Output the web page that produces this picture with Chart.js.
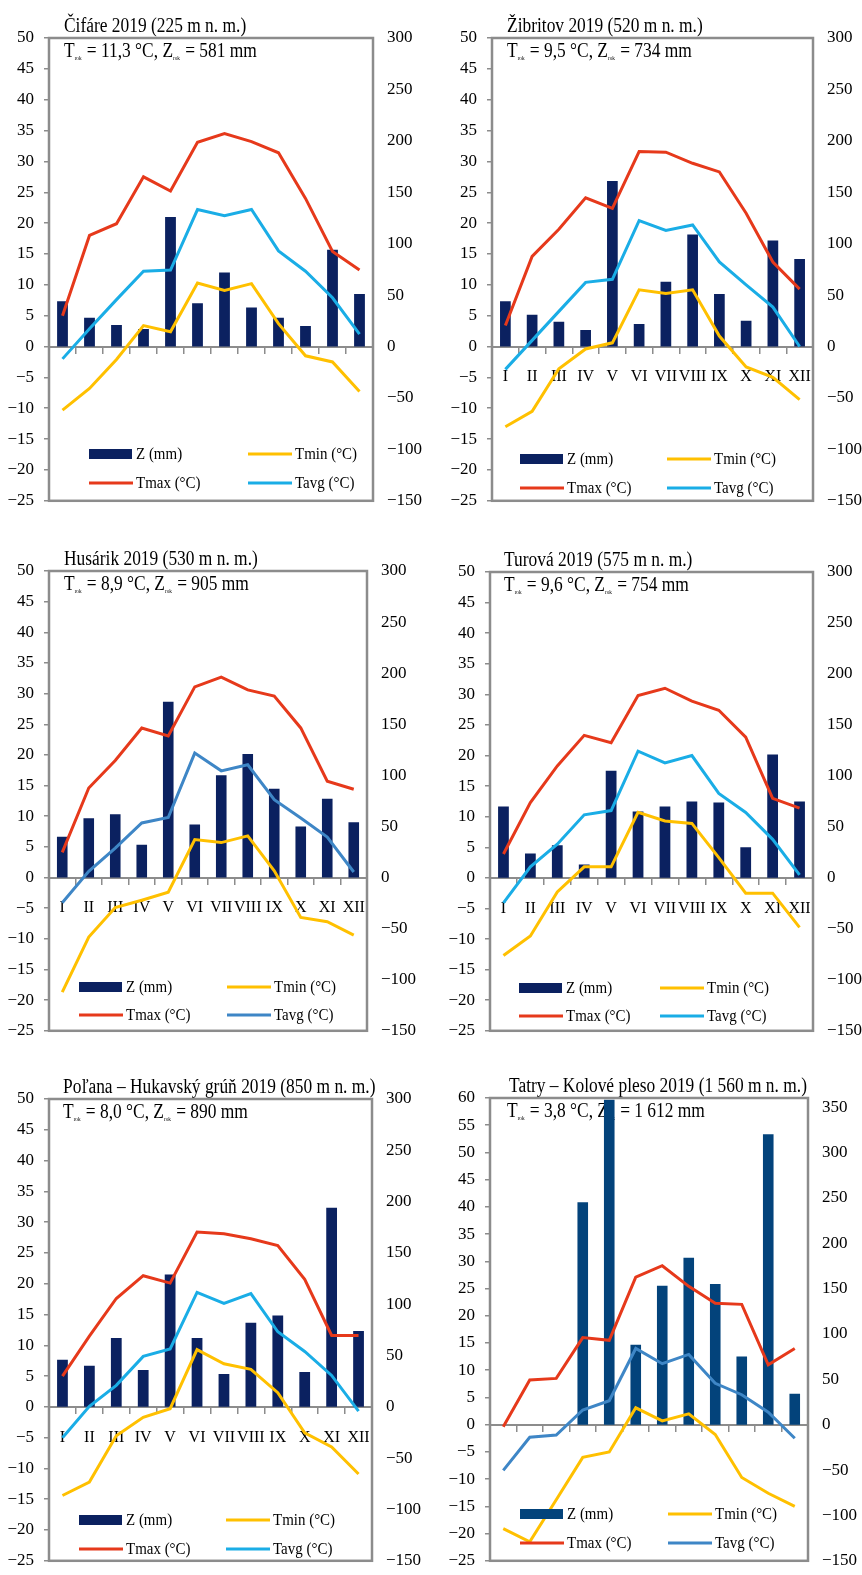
<!DOCTYPE html>
<html>
<head>
<meta charset="utf-8">
<script src="https://cdn.jsdelivr.net/npm/chart.js@4.4.1/dist/chart.umd.min.js"></script>
<style>
    html, body { margin: 0; padding: 0; background: #fff; }
    body { width: 862px; height: 1575px; overflow: hidden; position: relative; }
    canvas { position: absolute; }
</style>
</head>
<body>
<canvas id="c0" width="431" height="525" style="left:0;top:0"></canvas>
<canvas id="c1" width="431" height="525" style="left:431px;top:0"></canvas>
<canvas id="c2" width="431" height="530" style="left:0;top:525px"></canvas>
<canvas id="c3" width="431" height="530" style="left:431px;top:525px"></canvas>
<canvas id="c4" width="431" height="530" style="left:0;top:1055px"></canvas>
<canvas id="c5" width="431" height="530" style="left:431px;top:1055px"></canvas>
<script>
// --- data ---
const months = ['I', 'II', 'III', 'IV', 'V', 'VI', 'VII', 'VIII', 'IX', 'X', 'XI', 'XII'];
const seriesLabels = ['Z (mm)', 'Tmin (°C)', 'Tmax (°C)', 'Tavg (°C)'];
const stations = ['Čifáre', 'Žibritov', 'Husárik', 'Turová', 'Poľana – Hukavský grúň', 'Tatry – Kolové pleso'];
const year = 2019;
const elevations = [225, 520, 530, 575, 850, 1560];
const annualT = [11.3, 9.5, 8.9, 9.6, 8.0, 3.8];
const annualZ = [581, 734, 905, 754, 890, 1612];

const leftTicks50 = [-25, -20, -15, -10, -5, 0, 5, 10, 15, 20, 25, 30, 35, 40, 45, 50];
const leftTicks60 = [-25, -20, -15, -10, -5, 0, 5, 10, 15, 20, 25, 30, 35, 40, 45, 50, 55, 60];
const rightTicks300 = [-150, -100, -50, 0, 50, 100, 150, 200, 250, 300];
const rightTicks350 = [-150, -100, -50, 0, 50, 100, 150, 200, 250, 300, 350];

const zCifare = [44, 28, 21, 17, 126, 42, 72, 38, 28, 20, 94, 51];
const tminCifare = [-10.3, -6.8, -2.1, 3.4, 2.4, 10.3, 9.1, 10.2, 3.7, -1.5, -2.5, -7.3];
const tmaxCifare = [5.0, 18.0, 19.9, 27.5, 25.2, 33.1, 34.5, 33.2, 31.4, 24.0, 15.4, 12.4];
const tavgCifare = [-2.0, 2.9, 7.6, 12.2, 12.4, 22.2, 21.2, 22.2, 15.5, 12.2, 7.9, 2.0];

const zZibritov = [44, 31, 24, 16, 161, 22, 63, 109, 51, 25, 103, 85];
const tminZibritov = [-13.0, -10.5, -3.6, -0.4, 0.6, 9.2, 8.6, 9.2, 1.7, -3.3, -5.0, -8.6];
const tmaxZibritov = [3.4, 14.6, 19.0, 24.1, 22.4, 31.6, 31.5, 29.7, 28.3, 21.6, 13.7, 9.3];
const tavgZibritov = [-3.7, 1.0, 5.7, 10.4, 10.9, 20.4, 18.8, 19.7, 13.7, 10.0, 6.4, 0.0];

const zHusarik = [40, 58, 62, 32, 172, 52, 100, 121, 87, 50, 77, 54];
const tminHusarik = [-18.7, -9.7, -4.9, -3.7, -2.4, 6.2, 5.7, 6.8, 1.1, -6.5, -7.2, -9.4];
const tmaxHusarik = [4.1, 14.6, 19.1, 24.4, 23.1, 31.1, 32.7, 30.6, 29.6, 24.4, 15.7, 14.4];
const tavgHusarik = [-4.1, 1.0, 4.8, 8.9, 9.8, 20.3, 17.4, 18.4, 12.7, 9.7, 6.6, 0.9];

const zTurova = [70, 24, 32, 13, 105, 65, 70, 75, 74, 30, 121, 75];
const tminTurova = [-12.7, -9.5, -2.3, 1.8, 1.8, 10.7, 9.3, 8.9, 3.3, -2.5, -2.5, -8.1];
const tmaxTurova = [3.9, 12.3, 18.3, 23.3, 22.1, 29.8, 31.0, 28.9, 27.4, 23.0, 13.0, 11.4];
const tavgTurova = [-4.1, 1.8, 5.5, 10.3, 11.0, 20.7, 18.8, 20.0, 13.8, 10.7, 6.3, 0.5];

const zPolana = [46, 40, 67, 36, 129, 67, 32, 82, 89, 34, 194, 74];
const tminPolana = [-14.4, -12.2, -4.7, -1.7, -0.3, 9.3, 7.0, 6.1, 2.3, -4.2, -6.5, -10.9];
const tmaxPolana = [5.0, 11.5, 17.6, 21.3, 20.1, 28.4, 28.1, 27.3, 26.2, 20.7, 11.6, 11.6];
const tavgPolana = [-5.0, 0.1, 3.5, 8.2, 9.4, 18.6, 16.8, 18.4, 12.2, 9.0, 5.1, -0.7];

const zTatry = [null, null, null, 245, 358, 88, 153, 184, 155, 75, 320, 34];
const tminTatry = [-19.1, -21.5, -13.8, -6.0, -5.0, 3.1, 0.7, 2.0, -1.8, -9.7, -12.6, -15.0];
const tmaxTatry = [-0.4, 8.2, 8.5, 16.0, 15.5, 27.1, 29.2, 25.4, 22.3, 22.1, 11.0, 14.0];
const tavgTatry = [-8.4, -2.3, -1.9, 2.7, 4.4, 14.0, 11.2, 12.9, 7.6, 5.5, 2.3, -2.5];

// --- styles ---
const SERIF = '"Liberation Serif", "Times New Roman", serif';
const frameColor = '#8c8c8c';
const tminColor = '#ffc000';
const tmaxColor = '#e6391b';
const avgLight = '#1aade6';
const avgSteel = '#3e86c6';
const barDark = '#0b2160';
const barBlue = '#03437b';

Chart.defaults.font.family = SERIF;

const panels = [
    { id: 'c0', st: 0, z: zCifare, tmin: tminCifare, tmax: tmaxCifare, tavg: tavgCifare,
      months: false, leftMax: 50, rightMax: 300, leftTicks: leftTicks50, rightTicks: rightTicks300,
      bar: barDark, avg: avgLight, box: { top: 38, bottom: 15, wl: 49, wr: 58 },
      leg: { x1: 40, x2: 199, y1: 416, y2: 445 }, tdx1: 15, tdx2: 15 },
    { id: 'c1', st: 1, z: zZibritov, tmin: tminZibritov, tmax: tmaxZibritov, tavg: tavgZibritov,
      months: true, leftMax: 50, rightMax: 300, leftTicks: leftTicks50, rightTicks: rightTicks300,
      bar: barDark, avg: avgLight, box: { top: 38, bottom: 15, wl: 61, wr: 49 },
      leg: { x1: 28, x2: 175, y1: 421, y2: 450 }, tdx1: 15, tdx2: 15 },
    { id: 'c2', st: 2, z: zHusarik, tmin: tminHusarik, tmax: tmaxHusarik, tavg: tavgHusarik,
      months: true, leftMax: 50, rightMax: 300, leftTicks: leftTicks50, rightTicks: rightTicks300,
      bar: barDark, avg: avgSteel, box: { top: 46, bottom: 14, wl: 49, wr: 64 },
      leg: { x1: 30, x2: 178, y1: 416, y2: 444 }, tdx1: 15, tdx2: 15 },
    { id: 'c3', st: 3, z: zTurova, tmin: tminTurova, tmax: tmaxTurova, tavg: tavgTurova,
      months: true, leftMax: 50, rightMax: 300, leftTicks: leftTicks50, rightTicks: rightTicks300,
      bar: barDark, avg: avgLight, box: { top: 47, bottom: 16, wl: 59, wr: 49 },
      leg: { x1: 29, x2: 170, y1: 416, y2: 444 }, tdx1: 14, tdx2: 14 },
    { id: 'c4', st: 4, z: zPolana, tmin: tminPolana, tmax: tmaxPolana, tavg: tavgPolana,
      months: true, leftMax: 50, rightMax: 300, leftTicks: leftTicks50, rightTicks: rightTicks300,
      bar: barDark, avg: avgLight, box: { top: 44, bottom: 15, wl: 49, wr: 59 },
      leg: { x1: 30, x2: 177, y1: 421, y2: 450 }, tdx1: 14, tdx2: 14 },
    { id: 'c5', st: 5, z: zTatry, tmin: tminTatry, tmax: tmaxTatry, tavg: tavgTatry,
      months: false, leftMax: 60, rightMax: 360, leftTicks: leftTicks60, rightTicks: rightTicks350,
      bar: barBlue, avg: avgSteel, box: { top: 43, bottom: 15, wl: 59, wr: 54 },
      leg: { x1: 30, x2: 178, y1: 416, y2: 445 }, tdx1: 19, tdx2: 17 }
];

function fmtTick(v) {
    return v < 0 ? '\u2212' + Math.abs(v) : String(v);
}
function fmtDec(v) {
    return v.toFixed(1).replace('.', ',');
}
function fmtInt(v) {
    return String(v).replace(/\B(?=(\d{3})+(?!\d))/g, ' ');
}

// draws text runs, subscripts included, slightly condensed like the original
function drawRuns(ctx, runs, x, y, size, sx) {
    ctx.save();
    ctx.translate(x, y);
    ctx.scale(sx, 1);
    ctx.textBaseline = 'alphabetic';
    ctx.textAlign = 'left';
    let cx = 0;
    runs.forEach(r => {
        const sub = r[1];
        ctx.font = (sub ? 6 : size) + 'px ' + SERIF;
        ctx.fillText(r[0], cx, sub ? 3 : 0);
        cx += ctx.measureText(r[0]).width + (sub ? 1 : 0);
    });
    ctx.restore();
}

const decorPlugin = {
    id: 'decor',
    beforeDatasetsDraw(chart, args, opts) {
        const p = opts.panel;
        const { ctx, chartArea: a } = chart;
        ctx.save();
        ctx.fillStyle = '#000';
        const head = stations[p.st] + ' ' + year + ' (' + fmtInt(elevations[p.st]) + ' m n. m.)';
        drawRuns(ctx, [[head, false]], a.left + p.tdx1, a.top - 6, 20, 0.87);
        drawRuns(ctx, [
            ['T', false], ['rok', true],
            [' = ' + fmtDec(annualT[p.st]) + ' °C, Z', false], ['rok', true],
            [' = ' + fmtInt(annualZ[p.st]) + ' mm', false]
        ], a.left + p.tdx2, a.top + 19, 20, 0.87);
        ctx.restore();
    },
    afterDatasetsDraw(chart, args, opts) {
        const p = opts.panel;
        const { ctx, chartArea: a } = chart;
        ctx.save();
        // frame
        ctx.strokeStyle = frameColor;
        ctx.lineWidth = 2.5;
        ctx.strokeRect(a.left, a.top, a.right - a.left, a.bottom - a.top);

        // legend inside plot area
        const items = [
            { label: seriesLabels[0], bar: true, color: p.bar, x: p.leg.x1, y: p.leg.y1 },
            { label: seriesLabels[1], bar: false, color: tminColor, x: p.leg.x2, y: p.leg.y1 },
            { label: seriesLabels[2], bar: false, color: tmaxColor, x: p.leg.x1, y: p.leg.y2 },
            { label: seriesLabels[3], bar: false, color: p.avg, x: p.leg.x2, y: p.leg.y2 }
        ];
        items.forEach(it => {
            const x = a.left + it.x;
            const y = a.top + it.y;
            ctx.fillStyle = it.color;
            if (it.bar) {
                ctx.fillRect(x, y - 5, 43, 10);
            } else {
                ctx.fillRect(x, y - 1.5, 44, 3);
            }
            ctx.fillStyle = '#000';
            ctx.save();
            ctx.translate(x + 47, y + 1);
            ctx.scale(0.88, 1);
            ctx.font = '17px ' + SERIF;
            ctx.textBaseline = 'middle';
            ctx.fillText(it.label, 0, 0);
            ctx.restore();
        });
        ctx.restore();
    }
};

function lineSet(label, data, color) {
    return {
        type: 'line', label: label, data: data, yAxisID: 'y', order: 1,
        borderColor: color, backgroundColor: color, borderWidth: 3,
        pointRadius: 0, tension: 0, fill: false
    };
}

panels.forEach(p => {
    new Chart(document.getElementById(p.id), {
        type: 'bar',
        data: {
            labels: months,
            datasets: [
                lineSet(seriesLabels[1], p.tmin, tminColor),
                lineSet(seriesLabels[2], p.tmax, tmaxColor),
                lineSet(seriesLabels[3], p.tavg, p.avg),
                {
                    type: 'bar', label: seriesLabels[0], data: p.z, yAxisID: 'y2', order: 2,
                    backgroundColor: p.bar, barPercentage: 0.4, categoryPercentage: 1
                }
            ]
        },
        options: {
            responsive: false,
            animation: false,
            devicePixelRatio: 1,
            layout: { padding: { top: p.box.top, bottom: p.box.bottom, left: 0, right: 0 } },
            plugins: {
                legend: { display: false },
                tooltip: { enabled: false },
                decor: { panel: p }
            },
            scales: {
                x: {
                    type: 'category',
                    position: { y: 0 },
                    offset: true,
                    grid: {
                        offset: true, drawOnChartArea: false, drawTicks: true,
                        tickLength: 6, color: frameColor, lineWidth: 1.5
                    },
                    border: { display: true, color: frameColor, width: 2 },
                    ticks: {
                        display: p.months, color: '#000', padding: 15,
                        font: { family: SERIF, size: 16 },
                        maxRotation: 0, autoSkip: false
                    }
                },
                y: {
                    position: 'left',
                    min: -25,
                    max: p.leftMax,
                    afterBuildTicks: s => { s.ticks = p.leftTicks.map(v => ({ value: v })); },
                    afterFit: s => { s.width = p.box.wl; },
                    grid: {
                        drawOnChartArea: false, drawTicks: true, tickLength: 5,
                        color: frameColor, lineWidth: 1.5
                    },
                    border: { display: true, color: frameColor, width: 2 },
                    ticks: {
                        color: '#000', padding: 10, autoSkip: false,
                        font: { family: SERIF, size: 17 },
                        callback: v => fmtTick(v)
                    }
                },
                y2: {
                    position: 'right',
                    min: -150,
                    max: p.rightMax,
                    afterBuildTicks: s => { s.ticks = p.rightTicks.map(v => ({ value: v })); },
                    afterFit: s => { s.width = p.box.wr; },
                    grid: { display: false, drawTicks: false },
                    border: { display: true, color: frameColor, width: 2 },
                    ticks: {
                        color: '#000', padding: 14, autoSkip: false,
                        font: { family: SERIF, size: 17 },
                        callback: v => fmtTick(v)
                    }
                }
            }
        },
        plugins: [decorPlugin]
    });
});
</script>
</body>
</html>
